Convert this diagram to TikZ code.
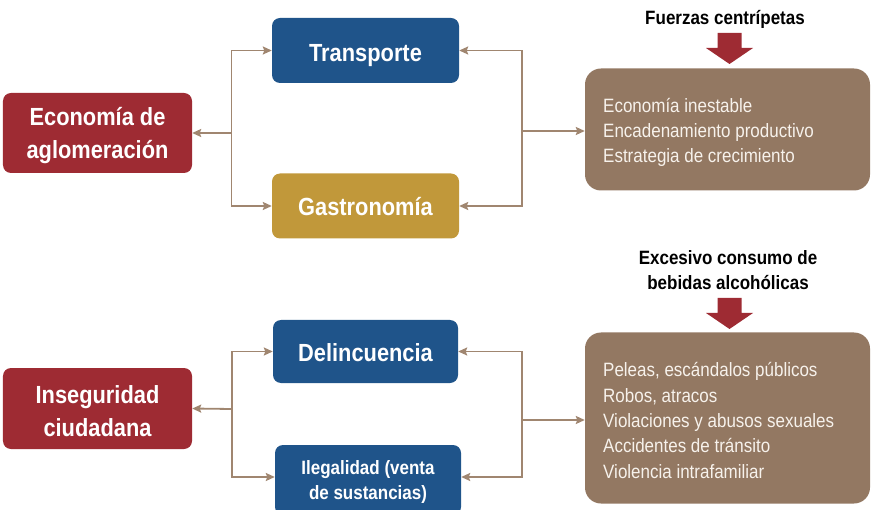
\documentclass[tikz,border=0pt]{standalone}
\usepackage{fontspec}
\setmainfont{Liberation Sans}[FakeStretch=0.88]
\usetikzlibrary{arrows.meta}
\definecolor{cred}{HTML}{9E2B33}
\definecolor{cblue}{HTML}{1F548A}
\definecolor{cgold}{HTML}{C1983A}
\definecolor{cbrown}{HTML}{937862}
\definecolor{cline}{HTML}{A08670}
\definecolor{cbtext}{HTML}{F7F2EC}
\begin{document}
\begin{tikzpicture}[x=1bp,y=-1bp,
  box/.style={rounded corners=8bp, draw=none, inner sep=0pt},
  boxtext/.style={text=white, align=center, inner sep=0pt,
    font=\bfseries\fontsize{24.8bp}{33bp}\selectfont},
  smalltext/.style={boxtext, font=\bfseries\fontsize{19.3bp}{25.5bp}\selectfont},
  bigbox/.style={rounded corners=16bp, fill=cbrown, inner sep=0pt},
  bigtext/.style={text=cbtext, align=left, inner sep=0pt, anchor=west,
    font=\fontsize{19.3bp}{25.3bp}\selectfont},
  heading/.style={align=center, inner sep=0pt, font=\bfseries\fontsize{19.3bp}{24.5bp}\selectfont},
  conn/.style={draw=cline, line width=1.8bp, -{Stealth[length=9bp,width=8bp,inset=1.5bp]}},
  bigarrow/.style={fill=cred, draw=none}
]
\useasboundingbox (0,0) rectangle (873,510);

% top group
\node[box, fill=cred, minimum width=189bp, minimum height=80bp] (eco) at (97.5,133) {};
\node[boxtext] (ecot) at (97.5,136) {Economía de\\aglomeración};
\node[box, fill=cblue, minimum width=187bp, minimum height=65bp] (trans) at (365.5,50.5) {};
\node[boxtext, text height=17.8bp, text depth=0pt] (transt) at (365.5,52.5) {Transporte};
\node[box, fill=cgold, minimum width=187bp, minimum height=65bp] (gastro) at (365.5,206) {};
\node[boxtext, text height=17.8bp, text depth=0pt] (gastrot) at (365.5,206.5) {Gastronomía};
\node[bigbox, minimum width=285bp, minimum height=122bp] (fuer) at (727.5,129.5) {};
\node[bigtext] (fuert) at (603,132.5)
  {Economía inestable\\Encadenamiento productivo\\Estrategia de crecimiento};
\node[heading] (h1) at (725,19) {Fuerzas centrípetas};
\fill[bigarrow] (717.5,33) -- (741.5,33) -- (741.5,48) -- (753,48) -- (729.5,64) -- (706,48) -- (717.5,48) -- cycle;

\coordinate (jl) at (231.5,133);
\draw[conn] (jl) -- (eco.east);
\draw[conn] (jl) |- (trans.west);
\draw[conn] (jl) |- (gastro.west);
\coordinate (jr) at (522,131);
\draw[conn] (jr) -- (jr -| fuer.west);
\draw[conn] (jr) |- (trans.east);
\draw[conn] (jr) |- (gastro.east);

% bottom group
\node[box, fill=cred, minimum width=189bp, minimum height=81bp] (inseg) at (97.5,408.5) {};
\node[boxtext] (insegt) at (97.5,411.5) {Inseguridad\\ciudadana};
\node[box, fill=cblue, minimum width=185bp, minimum height=63bp] (delin) at (365.5,351.5) {};
\node[boxtext, text height=17.8bp, text depth=0pt] (delint) at (365.5,353) {Delincuencia};
\node[box, fill=cblue, minimum width=186bp, minimum height=70bp] (ileg) at (368,480) {};
\node[smalltext] (ilegt) at (368,482) {Ilegalidad (venta\\de sustancias)};
\node[bigbox, minimum width=285bp, minimum height=171bp] (cons) at (727.5,418) {};
\node[bigtext] (const) at (603,420.5)
  {Peleas, escándalos públicos\\Robos, atracos\\Violaciones y abusos sexuales\\Accidentes de tránsito\\Violencia intrafamiliar};
\node[heading] (h2) at (728,270) {Excesivo consumo de\\bebidas alcohólicas};
\fill[bigarrow] (717.5,298) -- (741.5,298) -- (741.5,313) -- (753,313) -- (729.5,329) -- (706,313) -- (717.5,313) -- cycle;

\coordinate (ilegy) at (0,477);
\coordinate (jl2) at (232,409);
\draw[conn] (jl2) -- (inseg.east);
\draw[conn] (jl2) |- (delin.west);
\draw[conn] (jl2) |- (ileg.west |- ilegy);
\coordinate (jr2) at (522,420);
\draw[conn] (jr2) -- (jr2 -| cons.west);
\draw[conn] (jr2) |- (delin.east);
\draw[conn] (jr2) |- (ileg.east |- ilegy);
\end{tikzpicture}
\end{document}
